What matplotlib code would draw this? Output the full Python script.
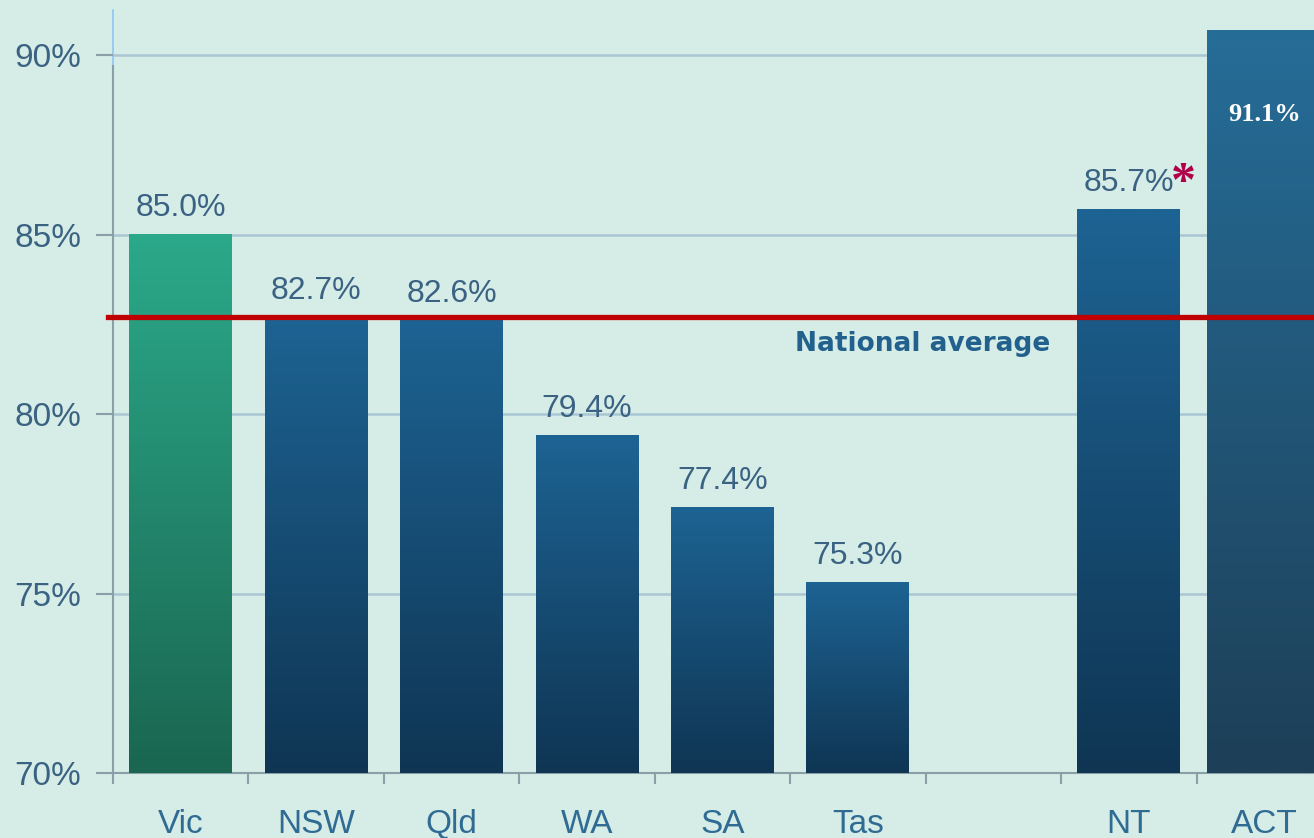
import numpy as np
import matplotlib.pyplot as plt
from matplotlib.colors import LinearSegmentedColormap

# data
states = ["Vic", "NSW", "Qld", "WA", "SA", "Tas", "NT", "ACT"]
values = [85.0, 82.7, 82.6, 79.4, 77.4, 75.3, 85.7, 91.1]
national_avg = 82.7
yticks = [70, 75, 80, 85, 90]

bg = "#d6ece6"
txt = "#3a6282"
plt.rcParams["font.family"] = ["Liberation Sans", "DejaVu Sans"]

fig = plt.figure(figsize=(13.14, 8.38), dpi=100, facecolor=bg)
ax = fig.add_axes([113 / 1314, 1 - 773 / 838, (1332 - 113) / 1314, (773 - 30) / 838])
ax.set_facecolor(bg)
ax.set_xlim(-0.5, 8.5)
ax.set_ylim(70, 90.7)

# empty slot between Tas and NT
x = np.arange(len(states), dtype=float)
x[6:] += 1
widths = [0.76] * 7 + [0.84]

grads = [("#1a6650", "#2ba98a")] + [("#0f3553", "#1d6393")] * 6 + [("#1d3f57", "#266d98")]

bars = ax.bar(x, np.array(values) - 70, bottom=70, width=widths,
              facecolor="none", edgecolor="none", zorder=3)
grad = np.linspace(0, 1, 256).reshape(-1, 1)
ytop = ax.get_ylim()[1]
for b, (c0, c1) in zip(bars, grads):
    cmap = LinearSegmentedColormap.from_list("g", [c0, c1])
    x0, w = b.get_x(), b.get_width()
    top = min(b.get_y() + b.get_height(), ytop)
    ax.imshow(grad, extent=[x0, x0 + w, 70, top], origin="lower",
              aspect="auto", cmap=cmap, zorder=3)

# value labels
for xi, v, s in zip(x, values, states):
    if s == "ACT":
        ax.text(xi, 88.35, f"{v:.1f}%", ha="center", va="center", color="white",
                fontsize=19, fontweight="bold", family="Liberation Serif", zorder=6)
    else:
        ax.annotate(f"{v:.1f}%", (xi, v), xytext=(0, 19), textcoords="offset points",
                    ha="center", va="center", fontsize=23, color=txt, zorder=6)
    if s == "NT":
        ax.annotate("*", (xi, v), xytext=(39, 18), textcoords="offset points",
                    ha="center", va="center", fontsize=36, fontweight="bold",
                    color="#b0004a", family="Liberation Serif", zorder=6)

# national average line
ax.plot([-0.54, 8.6], [national_avg, national_avg], color="#c00000", lw=3.8,
        zorder=5, clip_on=False)
ax.text(6.42, 81.95, "National average", ha="right", va="center", fontsize=19,
        fontweight="bold", color="#22618d", family="DejaVu Sans", zorder=6)

# axes styling
for s in ["top", "right"]:
    ax.spines[s].set_visible(False)
ax.spines["left"].set_bounds(70, 89.7)
ax.spines["left"].set_color("#8aa0a8")
ax.spines["bottom"].set_color("#8aa0a8")
ax.spines["left"].set_linewidth(1.5)
ax.spines["bottom"].set_linewidth(1.5)
ax.plot([-0.5, -0.5], [89.7, 91.25], color="#8ec5f5", lw=1.2, clip_on=False, zorder=1)

ax.set_yticks(yticks)
ax.set_yticklabels([f"{t}%" for t in yticks], fontsize=24, color=txt)
ax.tick_params(axis="y", length=12, width=1.5, color="#8aa0a8", pad=11)
for t in yticks[1:]:
    ax.axhline(t, color="#a9c6d3", lw=1.8, zorder=1)

ax.set_xticks(x)
ax.set_xticklabels(states, fontsize=24, color="#2f6b93")
ax.tick_params(axis="x", which="major", length=0, pad=26)
ax.set_xticks(np.arange(-0.5, 8, 1), minor=True)
ax.tick_params(axis="x", which="minor", length=8, width=1.5, color="#8aa0a8")

fig.savefig("out.png", dpi=100, facecolor=bg)
